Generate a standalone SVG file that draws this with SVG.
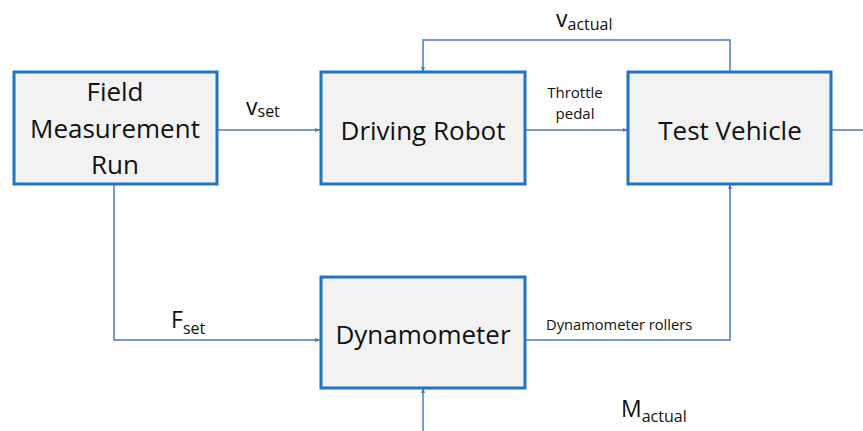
<svg xmlns="http://www.w3.org/2000/svg" width="863" height="431" viewBox="0 0 863 431">
<style>
.box{fill:#f2f2f2;stroke:#1f74c4;stroke-width:3}
.big{font-family:"Open Sans","Liberation Sans",sans-serif;font-size:26px;fill:#111;text-anchor:middle}
.lbl{font-family:"Open Sans","Liberation Sans",sans-serif;fill:#111}
.con{fill:none;stroke:#4a78c8;stroke-width:1.5}
</style>
<defs>
<marker id="ah" viewBox="0 0 10 10" refX="10" refY="5" markerWidth="5" markerHeight="5" orient="auto" markerUnits="userSpaceOnUse">
<path d="M0,1 L10,5 L0,9 Z" fill="#4a78c8"/>
</marker>
</defs>
<rect width="863" height="431" fill="#fff"/>
<g id="connectors">
<path class="con" d="M217,130 H320" marker-end="url(#ah)"/>
<path class="con" d="M525,130 H628" marker-end="url(#ah)"/>
<path class="con" d="M730,72 V40 H423 V72" marker-end="url(#ah)"/>
<path class="con" d="M114,184 V340 H320" marker-end="url(#ah)"/>
<path class="con" d="M525,340 H730 V184" marker-end="url(#ah)"/>
<path class="con" d="M831,130 H863"/>
<path class="con" d="M423,431 V388" marker-end="url(#ah)"/>
</g>
<g id="field">
<rect class="box" x="14" y="72" width="203" height="112"/>
<text class="big" x="115" y="101">Field</text>
<text class="big" x="115" y="138">Measurement</text>
<text class="big" x="115" y="174">Run</text>
</g>
<g id="robot">
<rect class="box" x="321" y="72" width="204" height="112"/>
<text class="big" x="423" y="140">Driving Robot</text>
</g>
<g id="vehicle">
<rect class="box" x="628" y="72" width="203" height="112"/>
<text class="big" x="730" y="140">Test Vehicle</text>
</g>
<g id="dyno">
<rect class="box" x="321" y="277" width="204" height="111"/>
<text class="big" x="423" y="344">Dynamometer</text>
</g>
<g id="labels">
<text class="lbl" x="246" y="115" font-size="23">v<tspan font-size="16" dy="2">set</tspan></text>
<text class="lbl" x="556" y="27" font-size="23">v<tspan font-size="16" dy="3">actual</tspan></text>
<text class="lbl" x="575" y="98" font-size="15" text-anchor="middle">Throttle</text>
<text class="lbl" x="575" y="119" font-size="15" text-anchor="middle">pedal</text>
<text class="lbl" x="171" y="328" font-size="23">F<tspan font-size="16" dy="6">set</tspan></text>
<text class="lbl" x="546" y="330" font-size="14.7">Dynamometer rollers</text>
<text class="lbl" x="621" y="417" font-size="23">M<tspan font-size="16" dy="5">actual</tspan></text>
</g>
</svg>
